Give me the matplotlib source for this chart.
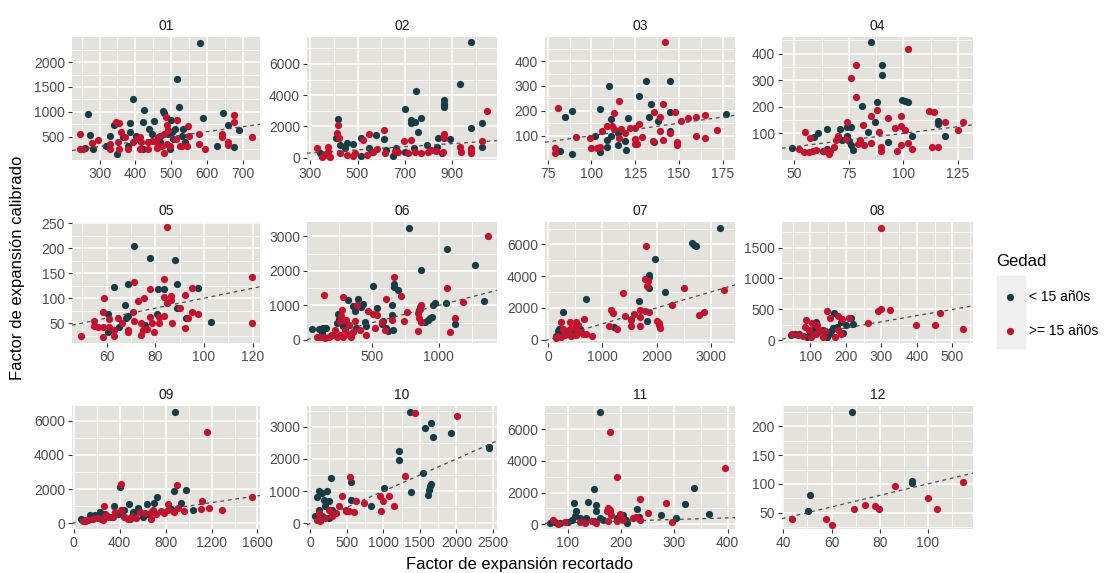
import numpy as np
import matplotlib.pyplot as plt
from matplotlib.patches import Rectangle
from matplotlib.ticker import FixedLocator

plt.rcParams['font.family'] = ['Liberation Sans', 'DejaVu Sans']

# (factor recortado, factor calibrado) por mes y grupo de edad
p01_menor = [(581,2390),(516,1650),(393,1250),(269,950),(423,1035),(522,1090),(476,1020),(481,980),(644,980),(590,877),(660,740),(690,637),(674,295),(629,315),(451,820),(420,800),(386,780),(339,740),(499,840),(274,540),(283,245),(260,265),(349,145),(328,520),(365,495),(439,655),(446,555),(469,520),(490,555),(501,590),(510,655),(534,655),(529,520),(538,385),(506,450),(497,245),(318,315),(421,245),(384,600),(403,520),(469,385),(379,315)]
p01_mayor = [(674,945),(674,795),(643,495),(642,555),(725,500),(578,555),(594,245),(578,350),(660,385),(660,330),(246,555),(244,245),(255,245),(278,370),(295,430),(346,795),(355,780),(360,590),(370,485),(328,350),(328,245),(351,385),(355,245),(379,245),(393,385),(403,450),(412,485),(417,385),(412,245),(435,385),(435,245),(458,385),(460,280),(474,315),(479,180),(488,350),(485,900),(488,730),(491,625),(516,830),(514,450),(497,315),(525,315),(543,315),(548,710),(550,520),(446,420),(464,485),(479,555),(529,320)]
p02_menor = [(979,7370),(930,4700),(745,4260),(864,3710),(864,3440),(864,3220),(699,3090),(769,2550),(727,2380),(724,2200),(741,2260),(755,1670),(416,2490),(1024,2200),(979,1890),(577,1420),(612,1200),(514,1270),(888,1200),(839,1270),(409,1270),(427,820),(455,930),(482,870),(448,600),(549,640),(622,490),(664,600),(699,380),(738,640),(794,780),(836,710),(857,270),(1024,710),(352,110),(342,270),(514,110),(651,110),(559,330)]
p02_mayor = [(1046,3000),(419,2110),(412,1600),(423,1270),(549,1490),(612,1750),(521,1150),(696,1090),(724,1150),(864,1490),(864,1270),(1024,1090),(328,640),(374,710),(377,380),(363,155),(426,270),(482,110),(489,270),(538,155),(566,380),(584,550),(615,270),(657,420),(671,380),(713,270),(741,380),(769,270),(797,380),(811,490),(832,420),(860,330),(930,710),(937,380),(979,490),(979,270),(979,640),(455,155),(350,50),(385,50)]
p03_menor = [(82,40),(85,175),(89,200),(89,25),(102,100),(105,206),(105,33),(110,298),(111,165),(111,100),(109,54),(115,111),(115,63),(119,77),(120,43),(121,170),(127,258),(131,318),(133,175),(134,227),(136,73),(138,159),(145,318),(145,195),(145,118),(177,186),(109,84)]
p03_mayor = [(81,210),(79,50),(79,30),(91,95),(99,90),(100,50),(103,50),(105,56),(106,118),(109,138),(112,138),(113,190),(116,238),(113,125),(116,90),(117,125),(119,111),(122,131),(125,88),(125,131),(127,148),(125,66),(126,66),(129,93),(135,77),(136,195),(139,175),(139,120),(141,84),(141,227),(142,477),(145,111),(148,195),(149,73),(149,63),(151,159),(155,172),(160,100),(165,90),(165,183),(172,122),(160,175)]
p04_menor = [(85,442),(90,357),(90,319),(99.5,226),(100.6,222),(102,219),(88,219),(81,204),(116,146),(116,136),(119,92),(104,92),(93,67),(87,141),(84,105),(65,115),(61,103),(59,86),(71,118),(74,124),(76,123),(74,92),(75,70),(76,57),(77,38),(49,44),(63,35),(65,42),(72,74)]
p04_mayor = [(102,417),(78.5,357),(76,308),(78.5,235),(88,186),(85,165),(93,156),(99,166),(99,128),(96,120),(101,111),(89,105),(81.5,130),(74,141),(55,105),(57,82),(112,184),(114,179),(119,141),(127.6,141),(125,111),(113,48),(116,48),(104,42),(89.6,48),(89.6,32),(97,33),(99,55),(102,63),(85,63),(82,55),(79,61),(70,92),(69,74),(68,48),(66.5,35),(63.5,35),(60,38),(58.6,35),(56.6,29),(54.6,31),(52,42),(66,22),(80,74),(73.5,80)]
p05_menor = [(71.4,205),(78,180),(88,177),(63,123),(69,128),(81,119),(83.7,118),(89,129),(97.7,120),(67.7,87),(68.6,65),(68,60),(65,43),(60.4,69),(60.4,33),(75.8,47),(75.8,43),(80.7,69),(89,80),(92.6,60),(103,53)]
p05_mayor = [(85,242),(119.6,143),(119.6,51),(71.4,133),(83.7,138),(78,118),(59,100),(73,95),(75.4,100),(86.4,97),(86.4,105),(92,107),(95,120),(83.7,102),(85,91),(90,80),(95,73),(97.5,69),(58.4,72),(55,55),(56.3,43),(58.4,43),(61.1,43),(63,37),(63,25),(58.4,23),(49.5,25),(64.5,60),(66.2,50),(71,73),(71.4,55),(74,50),(75,37),(76.8,38),(78,62),(79.6,33),(74,27),(69,33),(69,37),(81.6,63),(83.7,65),(78.5,50),(81.6,50),(87,51),(92,41),(93.6,60),(55,45),(61,59)]
p06_menor = [(775,3250),(1065,2640),(870,2030),(1275,2170),(1340,1120),(502,1550),(662,1630),(665,1530),(690,1460),(320,1160),(390,1200),(432,1050),(412,940),(537,920),(645,1000),(650,725),(582,560),(570,460),(600,350),(620,255),(657,285),(355,970),(367,840),(240,745),(247,600),(45,315),(100,315),(125,335),(150,335),(235,480),(280,410),(317,430),(375,350),(442,530),(455,410),(850,870),(862,940),(900,530),(920,580),(937,630),(950,655),(957,1020),(975,1070),(1057,1070),(1125,450),(132,90),(120,186)]
p06_mayor = [(1370,3000),(1060,1510),(1182,1100),(662,1830),(715,1270),(600,1200),(137,1290),(280,1245),(387,1020),(275,870),(267,680),(300,580),(255,550),(325,430),(367,560),(465,840),(507,755),(532,725),(520,335),(575,530),(595,285),(645,580),(737,560),(762,795),(870,1000),(857,900),(845,775),(852,630),(870,530),(845,255),(1085,215),(1125,630),(82,90),(107,90),(145,60),(170,90),(195,140),(232,90),(257,140),(282,90),(317,160),(355,235),(405,285),(455,140),(220,285),(295,285),(337,90)]
p07_menor = [(3177,7045),(2660,6060),(2696,5960),(2733,5870),(1978,5060),(1868,4100),(1868,3950),(1868,3245),(2148,2990),(1674,2430),(1832,1175),(1521,1280),(1211,790),(700,2560),(274,1750),(183,575),(200,680),(335,575),(426,575),(487,470),(578,680),(152,255),(365,365),(244,470),(517,365),(608,470)]
p07_mayor = [(1808,5870),(1795,3820),(1844,3715),(1832,3350),(3250,3140),(2514,3245),(2294,2180),(1381,2925),(1156,1860),(1199,1690),(1418,1495),(1582,1640),(1686,1860),(1783,1790),(1868,1750),(1686,1430),(1521,1215),(2008,1175),(2051,1070),(2051,900),(2069,725),(1692,830),(1521,830),(1278,680),(1114,830),(2794,1580),(2885,1750),(810,255),(657,1325),(517,1110),(548,900),(396,1110),(244,1110),(274,680),(396,680),(487,790),(639,365),(152,85),(183,255),(244,150),(304,300),(365,470),(426,255),(517,300),(563,470),(700,365)]
p08_menor = [(56,108),(45,81),(91,54),(100,108),(116,296),(122,135),(152,108),(157,151),(163,205),(166,442),(174,216),(185,296),(192,119),(199,243),(214,367),(220,270),(146,54),(135,162),(69,108),(108,162)]
p08_mayor = [(300,1822),(300,501),(291,474),(324,485),(465,442),(397,253),(452,253),(531,189),(261,280),(148,474),(155,367),(179,388),(188,350),(210,367),(89,323),(104,280),(119,243),(86,216),(97,162),(124,162),(141,151),(179,162),(185,108),(47,97),(64,81),(80,70),(102,54),(115,97),(135,54),(168,54)]
p09_menor = [(885,6510),(399,2110),(870,1877),(977,1955),(726,1525),(703,1173),(639,1095),(558,900),(477,1134),(350,997),(226,645),(269,547),(139,450),(66,254),(95,117),(934,1173),(847,840),(1035,782),(414,645),(442,782),(515,645),(529,450),(645,547),(327,352),(182,450),(156,254),(486,254),(601,352),(385,547)]
p09_mayor = [(1157,5376),(408,2307),(899,2209),(1556,1525),(1116,1270),(1180,900),(1108,840),(1287,743),(818,1134),(963,704),(905,900),(876,645),(818,743),(789,587),(760,704),(717,547),(688,782),(674,645),(622,587),(573,645),(500,352),(544,313),(442,352),(414,782),(356,645),(341,352),(298,352),(263,997),(283,450),(240,254),(205,313),(168,254),(124,196),(81,117),(110,156),(471,254),(674,254),(255,156)]
p10_menor = [(1358,3444),(1575,2970),(1657,3103),(1680,2690),(1924,2815),(2440,2380),(2440,2330),(1220,2250),(1220,1970),(1543,1577),(1648,1227),(1634,1144),(1620,1041),(1611,887),(1372,969),(1004,1093),(829,526),(552,1278),(552,732),(276,1402),(161,938),(92,804),(115,990),(230,990),(184,732),(253,680),(207,526),(299,423),(115,423),(69,216),(161,216),(253,165)]
p10_mayor = [(1436,3413),(2003,3330),(1289,1474),(539,1433),(437,856),(622,701),(737,629),(958,856),(990,680),(1082,835),(1151,526),(967,371),(483,423),(529,371),(598,340),(483,371),(299,216),(345,320),(253,423),(115,320),(92,113),(138,62),(207,165),(391,526)]
p11_menor = [(161,7093),(337,2272),(321,1286),(150,2207),(152.5,1200),(154,814),(139,1414),(112,1350),(116,814),(114,493),(123,386),(134,386),(204,600),(179,771),(231,964),(233,429),(275,557),(304,386),(365,643),(209,279),(212,64),(76,171),(86,64),(101,171),(108,279),(166,279),(150,214),(192,386),(201,386),(160,386),(67,64)]
p11_mayor = [(179,5850),(192,3000),(395,3536),(236,1607),(284,1350),(176,1029),(179,921),(173,857),(182,600),(198,643),(250,707),(228,429),(236,279),(296,171),(73,279),(82,30),(95,129),(123,129),(132,64),(145,214),(153,64),(176,214),(192,214),(223,386),(204,279)]
p12_menor = [(68.7,225.5),(51.1,80),(50.2,52),(93.6,105),(93.6,102)]
p12_mayor = [(43.5,39),(57.5,39),(60.3,29),(69.2,57),(74.1,64),(78,62),(79.8,57),(86.4,97),(100.3,76),(103.8,57),(114.5,103.5)]

meses = ['01', '02', '03', '04', '05', '06', '07', '08', '09', '10', '11', '12']
menores = [p01_menor, p02_menor, p03_menor, p04_menor, p05_menor, p06_menor,
           p07_menor, p08_menor, p09_menor, p10_menor, p11_menor, p12_menor]
mayores = [p01_mayor, p02_mayor, p03_mayor, p04_mayor, p05_mayor, p06_mayor,
           p07_mayor, p08_mayor, p09_mayor, p10_mayor, p11_mayor, p12_mayor]

x_breaks = [[300, 400, 500, 600, 700], [300, 500, 700, 900], [75, 100, 125, 150, 175],
            [50, 75, 100, 125], [60, 80, 100, 120], [500, 1000], [0, 1000, 2000, 3000],
            [100, 200, 300, 400, 500], [0, 400, 800, 1200, 1600],
            [0, 500, 1000, 1500, 2000, 2500], [100, 200, 300, 400], [40, 60, 80, 100]]
y_breaks = [[500, 1000, 1500, 2000], [0, 2000, 4000, 6000], [100, 200, 300, 400],
            [100, 200, 300, 400], [50, 100, 150, 200, 250], [0, 1000, 2000, 3000],
            [0, 2000, 4000, 6000], [0, 500, 1000, 1500], [0, 2000, 4000, 6000],
            [0, 1000, 2000, 3000], [0, 2000, 4000, 6000], [50, 100, 150, 200]]
x_lims = [(223, 748), (287, 1088), (73.5, 182), (44.3, 132), (45.8, 123), (7.5, 1440),
          (-60, 3450), (20, 558), (-15, 1622), (-46, 2555), (57.5, 414), (39.4, 118.8)]
y_lims = [(30, 2505), (-150, 7720), (2, 497), (0, 462), (10, 253), (-90, 3420),
          (-210, 7410), (-43, 1913), (-350, 6880), (-175, 3640), (-300, 7460), (21.5, 235.6)]

color_menor = '#173C45'
color_mayor = '#C8102E'
panel_bg = '#E3E2DC'

W, H = 1104, 573
fig = plt.figure(figsize=(W / 100, H / 100), dpi=100)

col_left = [72, 307, 545, 782]
col_width = [188, 190, 190, 191]
row_top = [37, 222, 406]
row_bottom = [160, 343, 529]


def minor_breaks(major, lim):
    step = major[1] - major[0]
    ext = [major[0] - step] + list(major) + [major[-1] + step]
    mids = [(a + b) / 2 for a, b in zip(ext[:-1], ext[1:])]
    return [m for m in mids if lim[0] <= m <= lim[1]]


for i, mes in enumerate(meses):
    r, c = divmod(i, 4)
    ax = fig.add_axes([col_left[c] / W, 1 - row_bottom[r] / H,
                       col_width[c] / W, (row_bottom[r] - row_top[r]) / H])
    ax.set_facecolor(panel_bg)
    lo = np.array(menores[i])
    hi = np.array(mayores[i])
    h_lo = ax.scatter(lo[:, 0], lo[:, 1], s=27, color=color_menor, linewidths=0, zorder=3)
    h_hi = ax.scatter(hi[:, 0], hi[:, 1], s=27, color=color_mayor, linewidths=0, zorder=3)
    ax.axline((0, 0), slope=1, color='#4D4D4D', lw=0.9, ls=(0, (3, 3)), zorder=4)
    ax.set_xlim(x_lims[i])
    ax.set_ylim(y_lims[i])
    ax.set_xticks(x_breaks[i])
    ax.set_yticks(y_breaks[i])
    ax.xaxis.set_minor_locator(FixedLocator(minor_breaks(x_breaks[i], x_lims[i])))
    ax.yaxis.set_minor_locator(FixedLocator(minor_breaks(y_breaks[i], y_lims[i])))
    ax.grid(which='major', color='white', lw=1.1, zorder=1)
    ax.grid(which='minor', color='white', lw=0.55, zorder=1)
    ax.set_axisbelow(True)
    for sp in ax.spines.values():
        sp.set_visible(False)
    ax.tick_params(which='major', length=3, width=0.8, color='#333333',
                   labelsize=10, labelcolor='#4D4D4D', pad=2)
    ax.tick_params(which='minor', length=0)
    ax.set_title(mes, fontsize=10, color='#1A1A1A', pad=5)

fig.text(520 / W, 1 - 565 / H, 'Factor de expansión recortado', ha='center', va='center',
         fontsize=12, color='black')
fig.text(18 / W, 1 - 268 / H, 'Factor de expansión calibrado', ha='center', va='center',
         rotation=90, fontsize=12, color='black')

fig.add_artist(Rectangle((997 / W, 1 - 348 / H), 28 / W, 72 / H,
                         transform=fig.transFigure, color='#EFEFEF', zorder=0))
fig.legend([h_lo, h_hi], ['< 15 añ0s', '>= 15 añ0s'], title='Gedad',
           loc='upper left', bbox_to_anchor=(984 / W, 1 - 242 / H), frameon=False,
           fontsize=10, title_fontsize=12, labelspacing=1.45, handletextpad=0.35,
           alignment='left', scatterpoints=1)

fig.savefig('out.png', dpi=100)
